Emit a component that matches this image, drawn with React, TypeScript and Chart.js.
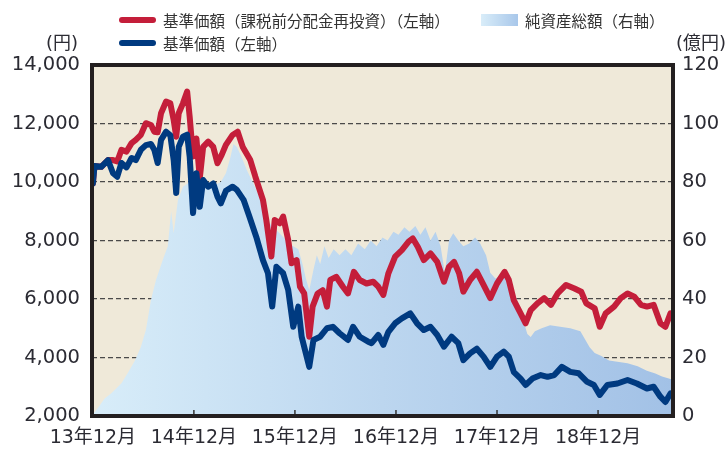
import React, { useEffect, useRef } from "react";
import { Chart, registerables } from "chart.js";

Chart.register(...registerables);

// x axis: months since 2013-12 (0 = 13年12月)
const xTickMonths = [0, 12, 24, 36, 48, 60];
const xTickLabels = ["13年12月", "14年12月", "15年12月", "16年12月", "17年12月", "18年12月"];
const leftTicks = [2000, 4000, 6000, 8000, 10000, 12000, 14000];
const rightTicks = [0, 20, 40, 60, 80, 100, 120];

// 基準価額(課税前分配金再投資) [month, 円]
const navReinvested: [number, number][] = [
  [0, 9950], [0.2, 10550], [1.0, 10520], [1.8, 10750], [2.4, 10750], [2.9, 10700], [3.4, 11100],
  [4.0, 11040], [4.6, 11330], [5.1, 11440], [5.7, 11610], [6.3, 12010], [6.9, 11950], [7.3, 11720],
  [7.7, 11700], [8.1, 12350], [8.7, 12750], [9.2, 12690], [9.6, 12120], [9.9, 11550], [10.2, 12350],
  [10.7, 12690], [11.2, 13090], [11.5, 12230], [11.9, 10870], [12.3, 11490], [12.7, 10130], [13.1, 11200],
  [13.7, 11380], [14.3, 11200], [14.8, 10640], [15.3, 10930], [15.8, 11270], [16.6, 11610], [17.2, 11720],
  [17.8, 11200], [18.7, 10750], [19.3, 10180], [20.2, 9390], [20.6, 8700], [21.2, 7450], [21.6, 8700],
  [22.2, 8590], [22.6, 8820], [23.2, 8020], [23.6, 7220], [24.2, 7330], [24.6, 6420], [25.1, 6190],
  [25.7, 4710], [26.1, 5740], [26.7, 6190], [27.3, 6300], [27.8, 5740], [28.2, 6650], [28.9, 6760],
  [29.7, 6420], [30.3, 6190], [31.0, 6930], [31.7, 6650], [32.5, 6530], [33.3, 6590], [33.9, 6420],
  [34.5, 6140], [35.1, 6880], [35.9, 7450], [36.7, 7670], [37.5, 7960], [38.0, 8070], [38.6, 7780],
  [39.3, 7330], [40.1, 7560], [40.9, 7270], [41.7, 6590], [42.3, 7100], [42.9, 7270], [43.5, 6880],
  [44.0, 6250], [44.8, 6650], [45.6, 6930], [46.4, 6480], [47.2, 6030], [48.0, 6530], [48.9, 6930],
  [49.4, 6650], [50.0, 5950], [50.8, 5510], [51.4, 5170], [52.0, 5620], [52.8, 5850], [53.6, 6030],
  [54.4, 5800], [55.2, 6190], [56.2, 6480], [57.2, 6360], [58.0, 6250], [58.6, 5850], [59.6, 5680],
  [60.2, 5050], [60.9, 5510], [61.9, 5740], [62.7, 6030], [63.5, 6190], [64.3, 6080], [65.1, 5800],
  [65.8, 5740], [66.6, 5800], [67.4, 5170], [68.0, 5050], [68.6, 5510],
];

// 基準価額 [month, 円]
const nav: [number, number][] = [
  [0, 9950], [0.2, 10550], [1.0, 10520], [1.8, 10750], [2.4, 10300], [2.9, 10180], [3.4, 10650],
  [4.0, 10500], [4.6, 10820], [5.1, 10750], [5.7, 11100], [6.3, 11260], [6.9, 11300], [7.3, 11100],
  [7.7, 10650], [8.1, 11440], [8.7, 11720], [9.2, 11600], [9.6, 10750], [9.9, 9620], [10.2, 11200],
  [10.7, 11550], [11.2, 11620], [11.5, 10870], [11.9, 8940], [12.3, 10300], [12.7, 9150], [13.1, 10070],
  [13.7, 9840], [14.3, 9950], [14.8, 9500], [15.2, 9270], [15.8, 9700], [16.6, 9840], [17.1, 9730],
  [17.9, 9390], [18.6, 8810], [19.4, 8130], [20.2, 7330], [20.8, 6880], [21.3, 5740], [21.8, 7100],
  [22.6, 6880], [23.2, 6310], [23.8, 5050], [24.4, 5740], [24.8, 4710], [25.3, 4140], [25.7, 3680],
  [26.2, 4600], [27.0, 4710], [27.8, 5000], [28.5, 5050], [29.3, 4830], [30.3, 4600], [30.9, 5050],
  [31.7, 4710], [32.7, 4540], [33.1, 4490], [33.9, 4770], [34.5, 4430], [35.1, 4880], [35.9, 5170],
  [36.7, 5340], [37.7, 5510], [38.5, 5170], [39.3, 4940], [40.1, 5050], [40.9, 4770], [41.7, 4370],
  [42.6, 4710], [43.4, 4490], [44.0, 3910], [44.8, 4140], [45.6, 4300], [46.4, 4030], [47.2, 3680],
  [48.0, 4030], [48.8, 4200], [49.4, 4030], [50.0, 3500], [50.8, 3280], [51.4, 3060], [52.2, 3280],
  [53.2, 3400], [54.0, 3340], [54.8, 3400], [55.7, 3680], [56.7, 3510], [57.7, 3460], [58.7, 3170],
  [59.5, 3060], [60.2, 2720], [61.1, 3060], [62.3, 3110], [63.5, 3230], [64.6, 3110], [65.8, 2940],
  [66.6, 3000], [67.4, 2660], [68.0, 2480], [68.6, 2770],
];

// 純資産総額 [month, 億円]
const netAssets: [number, number][] = [
  [0, 0.5], [0.6, 2.7], [1.4, 6], [2.2, 7.8], [3.4, 11.2], [4.2, 15], [5.0, 19], [5.7, 23.6],
  [6.3, 29.4], [6.9, 39.7], [7.5, 46.5], [8.3, 53.3], [8.9, 58], [9.3, 70], [9.6, 62.5], [10.1, 73.8],
  [10.7, 78.4], [11.5, 80], [12.5, 79], [13.5, 78], [14.5, 79], [15.2, 80], [15.8, 83], [16.3, 88],
  [16.7, 93], [17.1, 92], [17.6, 89], [18.3, 84], [19.3, 78], [20.2, 72], [21.0, 66], [22.0, 63],
  [23.0, 60], [23.8, 58], [24.4, 57], [24.9, 52], [25.3, 47], [25.7, 43], [26.2, 50], [26.6, 55],
  [27.0, 52], [27.5, 58], [28.0, 54], [28.6, 57], [29.3, 55], [30.0, 57], [30.7, 55], [31.5, 59],
  [32.3, 57], [33.0, 60], [33.7, 58], [34.4, 61], [35.0, 60], [35.7, 63], [36.3, 62], [37.0, 64.5],
  [37.6, 63], [38.3, 65], [38.9, 62], [39.5, 64.5], [40.1, 60], [40.7, 63], [41.3, 58], [41.8, 49],
  [42.3, 60], [42.8, 62.5], [43.4, 60], [44.0, 58], [44.7, 59], [45.4, 61], [46.0, 59], [46.7, 55],
  [47.2, 49], [47.8, 47], [48.5, 48], [49.0, 49], [49.6, 45], [50.2, 41], [50.7, 37], [51.2, 32],
  [51.6, 28], [52.0, 27], [52.5, 29], [53.3, 30], [54.3, 31], [55.5, 30.5], [56.7, 30], [57.9, 29],
  [58.5, 26], [59.0, 23.5], [59.6, 21.5], [60.4, 20.5], [61.3, 19], [62.5, 18.5], [63.5, 18],
  [64.7, 17], [65.8, 15.5], [66.8, 14.5], [67.6, 13.5], [68.8, 12.5],
];

const RED = "#c41e3a";
const BLUE = "#003a80";
const TEXT = "#2b2b33";
const FONT = '"DejaVu Sans", "Noto Sans CJK JP", sans-serif';
const JP_FONT = '"Noto Sans CJK JP", sans-serif';

const toXY = (arr: [number, number][]) => arr.map(([x, y]) => ({ x, y }));

const bgPlugin = {
  id: "bg",
  beforeDraw(chart: any) {
    const { ctx, chartArea: a } = chart;
    ctx.save();
    ctx.fillStyle = "#efe9d9";
    ctx.fillRect(a.left, a.top, a.right - a.left, a.bottom - a.top);
    ctx.restore();
  },
};

const framePlugin = {
  id: "frame",
  afterDatasetsDraw(chart: any) {
    const { ctx, chartArea: a, scales } = chart;
    ctx.save();
    ctx.strokeStyle = "#333";
    ctx.lineWidth = 1.5;
    xTickMonths.forEach((m) => {
      if (m === 0) return;
      const px = scales.x.getPixelForValue(m);
      ctx.beginPath();
      ctx.moveTo(px, a.bottom);
      ctx.lineTo(px, a.bottom - 6);
      ctx.stroke();
    });
    ctx.strokeStyle = "#231f20";
    ctx.lineWidth = 4;
    ctx.strokeRect(a.left, a.top, a.right - a.left, a.bottom - a.top);
    ctx.restore();
  },
};

function areaGradient(ctx: any) {
  const chart = ctx.chart;
  const a = chart.chartArea;
  if (!a) return "#bcd6ef";
  const g = chart.ctx.createLinearGradient(a.left, 0, a.right, 0);
  g.addColorStop(0, "#d8edf9");
  g.addColorStop(0.5, "#bcd6ef");
  g.addColorStop(1, "#a2c1e6");
  return g;
}

export default function App() {
  const ref = useRef<HTMLCanvasElement | null>(null);

  useEffect(() => {
    if (!ref.current) return;
    const chart = new Chart(ref.current, {
      type: "line",
      data: {
        datasets: [
          {
            label: "基準価額（左軸）",
            data: toXY(nav),
            yAxisID: "y",
            borderColor: BLUE,
            borderWidth: 6,
            pointRadius: 0,
            tension: 0,
            fill: false,
            borderJoinStyle: "round",
            borderCapStyle: "round",
            order: 0,
          },
          {
            label: "基準価額（課税前分配金再投資）（左軸）",
            data: toXY(navReinvested),
            yAxisID: "y",
            borderColor: RED,
            borderWidth: 6,
            pointRadius: 0,
            tension: 0,
            fill: false,
            borderJoinStyle: "round",
            borderCapStyle: "round",
            order: 1,
          },
          {
            label: "純資産総額（右軸）",
            data: toXY(netAssets),
            yAxisID: "y1",
            borderWidth: 0,
            borderColor: "rgba(0,0,0,0)",
            backgroundColor: areaGradient,
            pointRadius: 0,
            tension: 0,
            fill: "origin",
            order: 2,
          },
        ],
      },
      options: {
        animation: false,
        responsive: false,
        maintainAspectRatio: false,
        layout: { padding: { top: 65, left: 0, right: 0, bottom: 0 } },
        plugins: { legend: { display: false }, tooltip: { enabled: false } },
        scales: {
          x: {
            type: "linear",
            min: -0.1,
            max: 68.9,
            grid: { display: false, drawTicks: false },
            border: { display: false },
            afterBuildTicks: (s: any) => {
              s.ticks = xTickMonths.map((v) => ({ value: v }));
            },
            afterFit: (s: any) => {
              s.height = 36;
            },
            ticks: {
              autoSkip: false,
              maxRotation: 0,
              padding: 11,
              color: TEXT,
              font: { family: FONT, size: 19 },
              callback: (v: any) => {
                const i = xTickMonths.indexOf(Number(v));
                return i >= 0 ? xTickLabels[i] : "";
              },
            },
          },
          y: {
            position: "left",
            min: 2000,
            max: 14000,
            afterBuildTicks: (s: any) => {
              s.ticks = leftTicks.map((v) => ({ value: v }));
            },
            afterFit: (s: any) => {
              s.width = 92;
            },
            grid: {
              drawTicks: false,
              lineWidth: 1.2,
              color: (c: any) =>
                c.tick && (c.tick.value === 2000 || c.tick.value === 14000) ? "rgba(0,0,0,0)" : "#4a4a4a",
            },
            border: { display: false, dash: [5, 3] },
            ticks: {
              padding: 12,
              color: TEXT,
              font: { family: FONT, size: 19.5 },
              callback: (v: any) => Number(v).toLocaleString("en-US"),
            },
          },
          y1: {
            position: "right",
            min: 0,
            max: 120,
            afterBuildTicks: (s: any) => {
              s.ticks = rightTicks.map((v) => ({ value: v }));
            },
            afterFit: (s: any) => {
              s.width = 55;
            },
            grid: { display: false, drawTicks: false },
            border: { display: false },
            ticks: {
              padding: 9,
              color: TEXT,
              font: { family: FONT, size: 19.5 },
              callback: (v: any) => String(v),
            },
          },
        },
      },
      plugins: [bgPlugin, framePlugin],
    } as any);
    return () => chart.destroy();
  }, []);

  const legendText: React.CSSProperties = {
    position: "absolute",
    fontFamily: JP_FONT,
    fontSize: "15.5px",
    lineHeight: "20px",
    color: "#333",
    whiteSpace: "nowrap",
  };
  const unitText: React.CSSProperties = {
    position: "absolute",
    fontFamily: FONT,
    fontSize: "18px",
    lineHeight: "20px",
    color: TEXT,
    whiteSpace: "nowrap",
  };

  return (
    <div style={{ position: "absolute", left: 0, top: 0, width: 728, height: 452, background: "#fff" }}>
      <canvas ref={ref} width={728} height={452} style={{ position: "absolute", left: 0, top: 0, width: 728, height: 452 }} />
      <div style={{ position: "absolute", left: 119, top: 17, width: 37, height: 6, borderRadius: 3, background: RED }} />
      <div style={{ ...legendText, left: 163, top: 10 }}>基準価額（課税前分配金再投資）（左軸）</div>
      <div
        style={{
          position: "absolute",
          left: 481,
          top: 14,
          width: 37,
          height: 12,
          background: "linear-gradient(to right, #d9edf9, #a8c7ea)",
        }}
      />
      <div style={{ ...legendText, left: 525, top: 10 }}>純資産総額（右軸）</div>
      <div style={{ position: "absolute", left: 119, top: 40, width: 37, height: 6, borderRadius: 3, background: BLUE }} />
      <div style={{ ...legendText, left: 163, top: 33 }}>基準価額（左軸）</div>
      <div style={{ ...unitText, left: 46, top: 33 }}>(円)</div>
      <div style={{ ...unitText, left: 676, top: 33 }}>(億円)</div>
    </div>
  );
}
